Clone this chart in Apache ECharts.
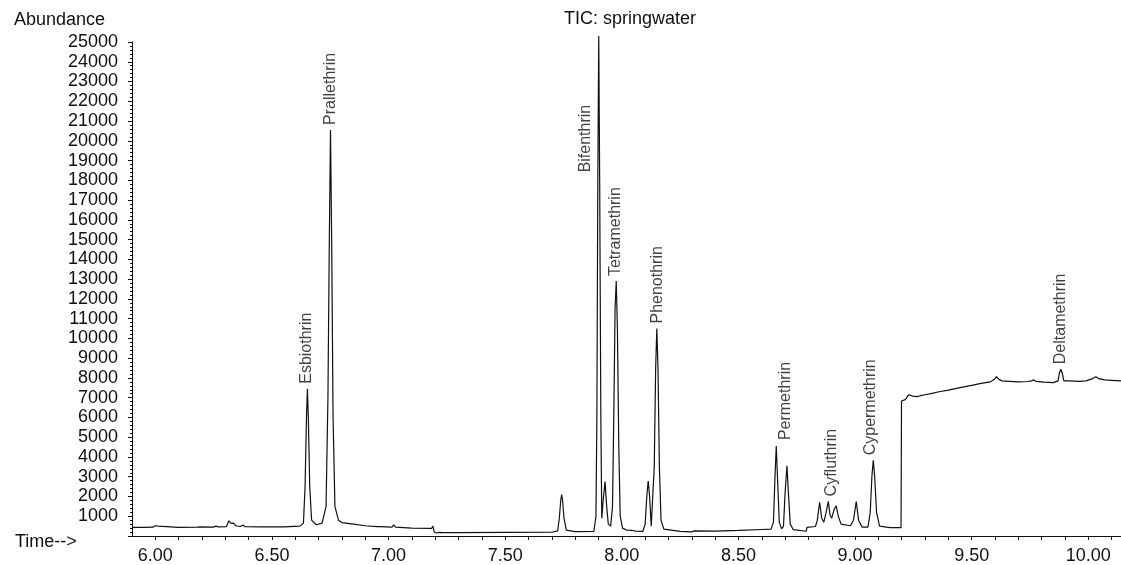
<!DOCTYPE html>
<html>
<head>
<meta charset="utf-8">
<script src="https://cdn.jsdelivr.net/npm/echarts@6/dist/echarts.min.js"></script>
<style>
  html, body { margin: 0; padding: 0; background: #fff; }
  #chart { width: 1121px; height: 565px; }
</style>
</head>
<body>
<div id="chart"></div>
<script>
// TIC trace, [time (min), abundance]
var tic = [
  [5.90, 440], [5.95, 440], [5.99, 445], [6.000, 520], [6.005, 600], [6.012, 500], [6.02, 450],
  [6.10, 440], [6.18, 445], [6.187, 530], [6.195, 460], [6.25, 450], [6.26, 500], [6.27, 460],
  [6.305, 470], [6.315, 770], [6.325, 640], [6.335, 650], [6.345, 520], [6.365, 480], [6.375, 560],
  [6.385, 470], [6.45, 460], [6.55, 460], [6.62, 500], [6.635, 650],
  [6.642, 2500], [6.648, 6000], [6.652, 7450], [6.656, 6000], [6.662, 2500], [6.670, 800],
  [6.69, 570], [6.715, 650], [6.732, 1500], [6.740, 7000], [6.746, 15000], [6.751, 20550],
  [6.756, 15000], [6.762, 6000], [6.770, 1500], [6.785, 800], [6.80, 680], [6.85, 600],
  [6.90, 520], [6.95, 470], [6.958, 540], [6.965, 470], [7.015, 450], [7.022, 560], [7.03, 450],
  [7.10, 400], [7.185, 390], [7.190, 500], [7.196, 200], [7.205, 150], [7.218, 180], [7.225, 240],
  [7.232, 170], [7.30, 170], [7.50, 180], [7.70, 190], [7.725, 260],
  [7.732, 900], [7.738, 1800], [7.742, 2100], [7.746, 1800], [7.752, 900], [7.762, 300],
  [7.80, 220], [7.88, 230], [7.889, 1000], [7.893, 6000], [7.897, 18000], [7.901, 25300],
  [7.905, 18000], [7.910, 6000], [7.914, 900], [7.920, 1800], [7.928, 2750], [7.935, 1500],
  [7.942, 600], [7.952, 500], [7.960, 1500], [7.966, 6500], [7.971, 11500], [7.976, 12900],
  [7.981, 10500], [7.987, 4500], [7.993, 1000], [8.003, 400], [8.02, 300], [8.045, 280],
  [8.05, 320], [8.06, 250], [8.09, 230], [8.100, 600], [8.107, 2000], [8.113, 2780],
  [8.119, 2000], [8.126, 500], [8.132, 600], [8.139, 3500], [8.145, 8500], [8.150, 10500],
  [8.155, 8500], [8.161, 3500], [8.168, 800], [8.18, 350], [8.25, 230], [8.30, 210], [8.31, 260],
  [8.40, 250], [8.50, 280], [8.60, 330], [8.64, 350],
  [8.650, 700], [8.656, 2800], [8.662, 4550], [8.668, 2800], [8.675, 700], [8.685, 360],
  [8.693, 500], [8.700, 2200], [8.708, 3550], [8.714, 2200], [8.722, 600], [8.735, 320],
  [8.79, 240], [8.794, 440], [8.83, 480], [8.838, 800], [8.848, 1700], [8.857, 900],
  [8.866, 700], [8.876, 1200], [8.885, 1750], [8.893, 1050], [8.900, 900], [8.910, 1350],
  [8.919, 1530], [8.928, 1000], [8.940, 600], [8.98, 520], [8.993, 800], [9.005, 1740],
  [9.015, 800], [9.030, 450], [9.055, 450], [9.065, 1200], [9.072, 3000], [9.078, 3830],
  [9.084, 3000], [9.092, 1200], [9.105, 500], [9.15, 420], [9.197, 420],
  [9.199, 6830], [9.215, 6900], [9.230, 7150], [9.238, 7250], [9.248, 7080], [9.265, 7050],
  [9.28, 7100], [9.30, 7150], [9.33, 7220], [9.36, 7300], [9.40, 7380], [9.43, 7460],
  [9.46, 7530], [9.50, 7620], [9.54, 7720], [9.58, 7800], [9.598, 7950], [9.606, 8060],
  [9.615, 7940], [9.63, 7850], [9.66, 7830], [9.70, 7800], [9.74, 7820], [9.757, 7850],
  [9.766, 7900], [9.775, 7830], [9.81, 7790], [9.85, 7760], [9.870, 7850], [9.876, 8250],
  [9.882, 8440], [9.888, 8250], [9.895, 7850], [9.92, 7850], [9.96, 7830], [9.99, 7850],
  [10.015, 7950], [10.032, 8060], [10.045, 7960], [10.07, 7900], [10.10, 7880], [10.14, 7850]
];

// peak annotations: name, label anchor time, label anchor abundance
var peakNames = ['Esbiothrin', 'Prallethrin', 'Bifenthrin', 'Tetramethrin', 'Phenothrin',
                 'Permethrin', 'Cyfluthrin', 'Cypermethrin', 'Deltamethrin'];
var peakTimes = [6.647, 6.751, 7.846, 7.975, 8.155, 8.702, 8.900, 9.066, 9.882];
var peakAbund = [7450, 20550, 18150, 12900, 10500, 4600, 1750, 3830, 8440];

var yTicksMin = 0, yTicksMax = 25000, yStep = 1000;
var xMin = 5.9, xMax = 10.14, xStep = 0.1;

var chart = echarts.init(document.getElementById('chart'));
var font = '"Liberation Sans", Arial, sans-serif';

chart.setOption({
  animation: false,
  title: [
    { text: 'TIC: springwater', left: 559, top: 5,
      textStyle: { fontFamily: font, fontSize: 18, fontWeight: 'normal', color: '#111' } },
    { text: 'Abundance', left: 9, top: 6,
      textStyle: { fontFamily: font, fontSize: 18, fontWeight: 'normal', color: '#111' } },
    { text: 'Time-->', left: 10, top: 528,
      textStyle: { fontFamily: font, fontSize: 18, fontWeight: 'normal', color: '#111' } }
  ],
  grid: { left: 132, right: 0, top: 42, bottom: 29 },
  xAxis: {
    type: 'value', min: xMin, max: xMax, interval: xStep,
    splitLine: { show: false },
    axisLine: { lineStyle: { color: '#111', width: 1 } },
    axisTick: { length: 4, lineStyle: { color: '#111' } },
    axisLabel: {
      margin: 11, fontFamily: font, fontSize: 18, color: '#111',
      showMinLabel: false, showMaxLabel: false,
      formatter: function (v) {
        var k = Math.round(v * 10);
        return (k % 5 === 0) ? (k / 10).toFixed(2) : '';
      }
    }
  },
  yAxis: {
    type: 'value', min: yTicksMin, max: yTicksMax, interval: yStep,
    splitLine: { show: false },
    axisLine: { show: true, lineStyle: { color: '#111', width: 1 } },
    axisTick: { show: true, length: 4, lineStyle: { color: '#111' } },
    minorTick: { show: true, splitNumber: 5, length: 2, lineStyle: { color: '#111' } },
    axisLabel: {
      margin: 14, fontFamily: font, fontSize: 18, color: '#111',
      formatter: function (v) { return v === 0 ? '' : String(v); }
    }
  },
  series: [
    {
      type: 'line', data: tic, showSymbol: false, clip: false,
      lineStyle: { color: '#111', width: 1.2 }
    },
    {
      type: 'scatter', symbolSize: 0, silent: true,
      data: peakNames.map(function (n, i) { return { name: n, value: [peakTimes[i], peakAbund[i]] }; }),
      label: {
        show: true, position: 'top', distance: 5, rotate: 90,
        align: 'left', verticalAlign: 'middle',
        fontFamily: font, fontSize: 16, color: '#111',
        formatter: function (p) { return p.name; }
      }
    }
  ]
});
</script>
</body>
</html>
